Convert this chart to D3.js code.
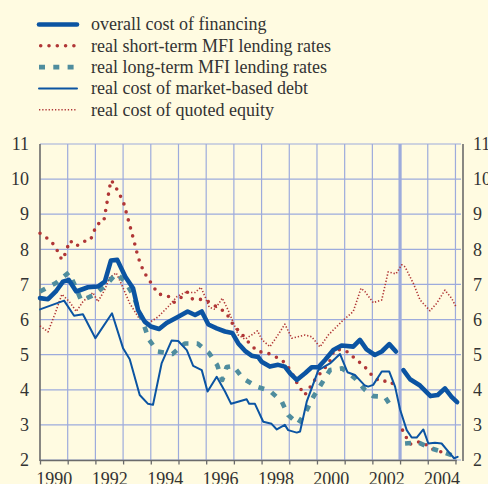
<!DOCTYPE html>
<html><head><meta charset="utf-8">
<script src="https://cdn.jsdelivr.net/npm/d3@7"></script>
<style>
html,body{margin:0;padding:0;background:#fffbe1;}
svg{display:block;}
text{font-family:"Liberation Serif","Times New Roman",serif;fill:#333;}
</style></head>
<body>
<svg id="c" width="488" height="484"></svg>
<script>
// ---- data (decimal year, percent) ----
const yTicks = [2,3,4,5,6,7,8,9,10,11];
const yearLabels = [1990,1992,1994,1996,1998,2000,2002,2004];
const seriesNames = ["overall cost of financing","real short-term MFI lending rates","real long-term MFI lending rates","real cost of market-based debt","real cost of quoted equity"];
const breakYear = 2003;

const overallPre = [[1990.00,6.61],[1990.29,6.58],[1990.59,6.82],[1990.83,7.08],[1991.04,7.13],[1991.31,6.80],[1991.73,6.92],[1992.09,6.94],[1992.34,7.08],[1992.56,7.68],[1992.79,7.70],[1993.08,7.22],[1993.36,6.89],[1993.54,6.27],[1993.78,5.94],[1994.00,5.80],[1994.30,5.73],[1994.57,5.90],[1994.99,6.08],[1995.33,6.23],[1995.60,6.13],[1995.84,6.23],[1996.08,5.86],[1996.38,5.75],[1996.68,5.66],[1996.94,5.62],[1997.16,5.32],[1997.40,5.11],[1997.64,4.97],[1997.88,4.93],[1998.00,4.80],[1998.30,4.66],[1998.60,4.71],[1998.84,4.66],[1999.03,4.47],[1999.27,4.28],[1999.57,4.47],[1999.81,4.64],[2000.05,4.64],[2000.29,4.85],[2000.59,5.13],[2000.89,5.26],[2001.31,5.23],[2001.55,5.42],[2001.79,5.15],[2002.09,4.99],[2002.34,5.09],[2002.61,5.30],[2002.85,5.09]];
const overallPost = [[2003.12,4.56],[2003.36,4.30],[2003.72,4.12],[2004.10,3.82],[2004.36,3.85],[2004.62,4.04],[2004.86,3.80],[2005.06,3.65]];

const shortPre = [[1990.00,8.46],[1990.29,8.30],[1990.53,8.11],[1990.79,7.70],[1990.89,7.84],[1991.08,8.25],[1991.31,8.09],[1991.55,8.22],[1991.82,8.26],[1992.05,8.71],[1992.30,8.79],[1992.56,9.97],[1992.70,9.84],[1992.82,9.63],[1993.00,9.38],[1993.15,8.95],[1993.39,8.25],[1993.54,7.78],[1993.75,7.35],[1993.90,7.18],[1994.05,6.99],[1994.27,6.73],[1994.45,6.70],[1994.66,6.65],[1994.84,6.49],[1995.08,6.62],[1995.32,6.78],[1995.51,6.58],[1995.71,6.58],[1995.98,6.56],[1996.23,6.44],[1996.46,6.32],[1996.70,6.21],[1996.86,6.01],[1997.01,5.80],[1997.22,5.66],[1997.43,5.44],[1997.64,5.26],[1997.86,5.09],[1998.18,5.06],[1998.45,4.96],[1998.73,4.85],[1998.93,4.68],[1999.09,4.49],[1999.23,4.26],[1999.39,4.06],[1999.54,3.85],[1999.69,3.96],[1999.81,4.18],[1999.99,4.34],[2000.17,4.52],[2000.43,4.75],[2000.62,5.13],[2000.91,5.15],[2001.19,5.04],[2001.40,4.85],[2001.64,4.73],[2001.85,4.54],[2002.03,4.37],[2002.30,4.23],[2002.59,4.26],[2002.82,4.12]];
const shortPost = [[2003.09,2.85],[2003.24,2.62],[2003.36,2.45],[2003.60,2.52],[2003.84,2.50],[2004.10,2.33],[2004.36,2.26],[2004.66,2.19],[2004.98,2.15]];

const longPre = [[1990.00,6.80],[1990.10,6.84],[1990.59,7.05],[1991.04,7.34],[1991.27,6.96],[1991.49,6.54],[1991.95,6.70],[1992.39,6.99],[1992.75,7.31],[1993.08,7.08],[1993.36,6.70],[1993.54,6.32],[1993.75,5.85],[1993.94,5.42],[1994.25,5.09],[1994.78,5.02],[1995.23,5.32],[1995.69,5.32],[1996.10,5.05],[1996.40,4.70],[1996.58,4.28],[1996.74,4.65],[1996.98,4.68],[1997.32,4.33],[1997.82,4.09],[1998.30,3.97],[1998.73,3.66],[1998.96,3.28],[1999.32,3.03],[1999.63,3.42],[1999.87,3.80],[2000.17,4.18],[2000.47,4.56],[2000.91,4.61],[2001.37,4.33],[2001.73,4.00],[2002.03,3.82],[2002.45,3.80],[2002.75,3.44]];
const longPost = [[2003.18,2.47],[2003.66,2.50],[2004.13,2.33],[2004.50,2.24],[2005.03,2.09]];

const marketDebt = [[1990.00,6.29],[1990.87,6.54],[1991.23,6.11],[1991.55,6.15],[1992.00,5.47],[1992.60,6.18],[1993.00,5.18],[1993.24,4.87],[1993.60,3.85],[1993.90,3.60],[1994.08,3.57],[1994.39,4.75],[1994.75,5.40],[1994.99,5.39],[1995.30,5.13],[1995.53,4.68],[1995.84,4.56],[1996.05,3.95],[1996.38,4.37],[1996.68,3.95],[1996.90,3.60],[1997.46,3.73],[1997.55,3.60],[1997.76,3.60],[1998.06,3.09],[1998.36,3.03],[1998.55,2.87],[1998.84,3.00],[1998.96,2.85],[1999.27,2.78],[1999.39,2.81],[1999.63,3.66],[2000.05,4.56],[2000.47,4.75],[2000.83,5.02],[2001.10,4.50],[2001.37,4.42],[2001.73,4.12],[2001.85,4.09],[2002.03,4.14],[2002.34,4.52],[2002.61,4.52],[2002.82,4.09],[2003.00,3.44],[2003.24,2.85],[2003.42,2.64],[2003.60,2.64],[2003.84,2.87],[2004.02,2.47],[2004.26,2.49],[2004.50,2.47],[2004.70,2.28],[2004.95,2.05],[2005.08,2.09]];

const quotedEquity = [[1990.00,5.82],[1990.29,5.65],[1990.55,6.18],[1990.79,6.72],[1991.06,6.51],[1991.31,6.23],[1991.55,6.51],[1991.91,6.77],[1992.09,6.51],[1992.34,6.85],[1992.50,7.18],[1992.75,7.33],[1992.94,7.01],[1993.24,6.46],[1993.54,6.08],[1993.90,5.89],[1994.27,6.08],[1994.63,6.37],[1994.94,6.65],[1995.23,6.77],[1995.60,6.77],[1995.81,6.92],[1995.96,6.65],[1996.11,6.35],[1996.32,6.29],[1996.58,6.61],[1996.78,6.29],[1996.94,5.99],[1997.16,5.56],[1997.40,5.44],[1997.64,5.56],[1997.85,5.68],[1998.02,5.42],[1998.30,5.23],[1998.55,5.51],[1998.84,5.87],[1999.09,5.47],[1999.57,5.56],[1999.81,5.51],[2000.11,5.22],[2000.41,5.56],[2000.89,5.94],[2001.31,6.23],[2001.59,6.89],[2001.73,6.80],[2002.03,6.48],[2002.34,6.56],[2002.57,7.36],[2002.85,7.30],[2003.06,7.56],[2003.18,7.50],[2003.48,7.03],[2003.72,6.56],[2004.08,6.25],[2004.32,6.46],[2004.62,6.84],[2004.86,6.61],[2005.04,6.33]];

// ---- styles ----
const BLUE = "#0b54a2", RED = "#b03636", TEAL = "#4f8d9e", GRID = "#9dabdc", AXIS = "#6b6b6b";
const styles = [
  {w:4.6, color:BLUE, dash:null, cap:"round"},
  {w:3.6, color:RED, dash:"0 8.3", cap:"round"},
  {w:4.6, color:TEAL, dash:"6 8.3", cap:"butt"},
  {w:2, color:BLUE, dash:null, cap:"round"},
  {w:1.6, color:RED, dash:"1.3 1.9", cap:"butt"}
];

const svg = d3.select("#c");
const L = 40, R = 461, T = 144, B = 460;
const x = d3.scaleLinear().domain([1990, 2005.2]).range([L, R]);
const y = d3.scaleLinear().domain([2, 11]).range([B, T]);

// grid
const g = svg.append("g");
g.selectAll("line.h").data(yTicks).join("line")
  .attr("x1", L).attr("x2", R).attr("y1", d=>y(d)).attr("y2", d=>y(d))
  .attr("stroke", GRID).attr("stroke-width", 1.2);
g.selectAll("line.v").data(d3.range(1991, 2006)).join("line")
  .attr("x1", d=>x(d)).attr("x2", d=>x(d)).attr("y1", T).attr("y2", B)
  .attr("stroke", GRID).attr("stroke-width", d => d === breakYear ? 3.2 : 1.2);

// axes
svg.append("line").attr("x1", L).attr("x2", L).attr("y1", T).attr("y2", B+1)
  .attr("stroke", AXIS).attr("stroke-width", 1.6);
svg.append("line").attr("x1", R+2).attr("x2", R+2).attr("y1", T).attr("y2", B+1)
  .attr("stroke", AXIS).attr("stroke-width", 1.6);

const xTickAxis = d3.axisBottom(x).tickValues(d3.range(1990, 2006)).tickSize(4).tickFormat("").tickSizeOuter(0);
const xa = svg.append("g").attr("transform", `translate(0,${B+0.5})`).call(xTickAxis);
xa.select(".domain").attr("stroke", AXIS).attr("stroke-width", 1.6).attr("d", `M${L},0H${x(2005.05)}`);
xa.selectAll(".tick line").attr("stroke", AXIS).attr("stroke-width", 1.3);

const xLabAxis = d3.axisBottom(x).tickValues(yearLabels.map(v=>v+0.5)).tickSize(0).tickPadding(0)
  .tickFormat(d => String(Math.floor(d)));
const xl = svg.append("g").attr("transform", `translate(0,471)`).call(xLabAxis);
xl.select(".domain").remove();
xl.selectAll("text").attr("font-size", 18).attr("fill", "#333")
  .attr("font-family", '"Liberation Serif", serif').attr("dy", "0.78em");

const yl = svg.append("g").attr("transform", `translate(${L},0)`)
  .call(d3.axisLeft(y).tickValues(yTicks).tickSize(0).tickPadding(11).tickFormat(d3.format("d")));
yl.select(".domain").remove();
yl.selectAll("text").attr("font-size", 18).attr("fill", "#333").attr("font-family", '"Liberation Serif", serif');

const yr = svg.append("g").attr("transform", `translate(${R+2},0)`)
  .call(d3.axisRight(y).tickValues(yTicks).tickSize(0).tickPadding(10).tickFormat(d3.format("d")));
yr.select(".domain").remove();
yr.selectAll("text").attr("font-size", 18).attr("fill", "#333").attr("font-family", '"Liberation Serif", serif');

// series
const line = d3.line().x(d=>x(d[0])).y(d=>y(d[1]));
const plotted = [
  [quotedEquity, 4], [shortPre, 1], [shortPost, 1], [longPre, 2], [longPost, 2],
  [marketDebt, 3], [overallPre, 0], [overallPost, 0]
];
const sg = svg.append("g");
plotted.forEach(([data, si]) => {
  const s = styles[si];
  sg.append("path").attr("d", line(data)).attr("fill", "none")
    .attr("stroke", s.color).attr("stroke-width", s.w)
    .attr("stroke-linecap", s.cap).attr("stroke-linejoin", "round")
    .attr("stroke-dasharray", s.dash);
});

// legend
const lg = svg.append("g");
seriesNames.forEach((name, i) => {
  const s = styles[i];
  const cy = 24.5 + i * 21.3;
  const x1 = i === 1 ? 40.7 : 39, x2 = i === 1 ? 74.5 : 77;
  lg.append("line").attr("x1", x1).attr("x2", x2).attr("y1", cy).attr("y2", cy)
    .attr("stroke", s.color).attr("stroke-width", s.w)
    .attr("stroke-linecap", s.cap).attr("stroke-dasharray", s.dash);
  lg.append("text").attr("x", 91).attr("y", cy).attr("dy", "0.33em")
    .attr("font-size", 18).text(name);
});
</script>
</body></html>
